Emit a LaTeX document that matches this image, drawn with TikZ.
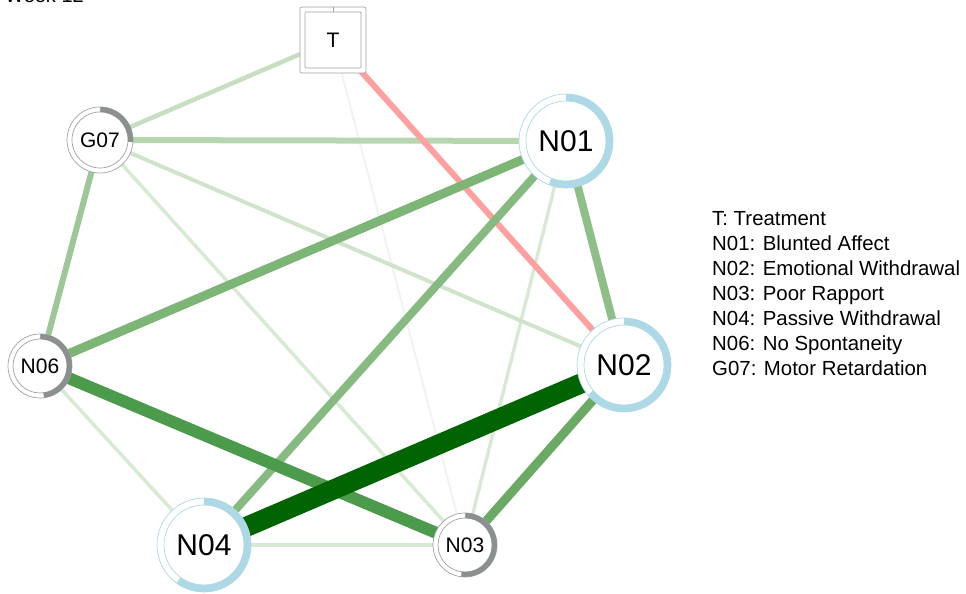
\documentclass[tikz,border=0pt]{standalone}
\usepackage{fontspec}
\setmainfont{Liberation Sans}
\usetikzlibrary{backgrounds}
\definecolor{ringblue}{HTML}{ADD8E6}
\definecolor{ringbluepie}{HTML}{ADD8E6}
\definecolor{ringgray}{HTML}{A0A2A2}
\definecolor{ringgraypie}{HTML}{8C8F8F}
\definecolor{eA}{HTML}{006400}
\definecolor{eB}{HTML}{4C9A4C}
\definecolor{eC}{HTML}{6AAA65}
\definecolor{eD}{HTML}{7DB577}
\definecolor{eE}{HTML}{86BA80}
\definecolor{eF}{HTML}{8FBF89}
\definecolor{eG}{HTML}{9DC797}
\definecolor{eH}{HTML}{B6D6B0}
\definecolor{eI}{HTML}{C6DFC0}
\definecolor{eJ}{HTML}{CFE4CA}
\definecolor{eK}{HTML}{D8E9D4}
\definecolor{eL}{HTML}{EEF5EC}
\definecolor{eRed}{HTML}{FFA0A0}
\newcommand\pienode[9]{%
  \node[circle, inner sep=0pt, minimum size={2*#4*1pt}, fill=white, draw=#7, line width=0.7pt] (#1) at (#2,#3) {};
  \draw[#7, line width=0.7pt] (#2,#3) circle[radius={(#4-#5)*1pt}];
  \draw[#7pie, line width=#5pt] ({#2},{#3+#4-#5/2}) arc[start angle=90, end angle={90-360*#6}, radius={(#4-#5/2)*1pt}];
  \draw[#7, line width=0.7pt] ({#2},{#3+#4-#5}) -- ({#2},{#3+#4});
  \node[inner sep=0pt, font=\fontsize{#9}{#9}\selectfont] (#1-lbl) at (#1.center) {#8};
}
\tikzset{edge/.style={line cap=butt}}
\begin{document}
\begin{tikzpicture}[x=1pt,y=1pt]
\useasboundingbox (0,0) rectangle (966,594);
% title (cut off at the top edge, as in the reference)
\node[anchor=base east, inner sep=0pt, font=\fontsize{20}{24}\selectfont] (title) at (84,591) {Week 12};
% T node
\node[rectangle, rounded corners=2pt, inner sep=0pt, minimum size=66pt, fill=white, draw=ringgray, line width=0.7pt] (T) at (333,554) {};
\node[rectangle, rounded corners=1pt, inner sep=0pt, minimum size=56pt, draw=ringgray, line width=0.7pt] (Tin) at (333,554) {};
\draw[ringgray, line width=0.7pt] (Tin.north) -- (T.north);
\node[inner sep=0pt, font=\fontsize{21}{21}\selectfont] (T-lbl) at (333,554) {T};
% pie nodes
\pienode{G07}{100}{454}{33}{5}{0.26}{ringgray}{G07}{21}
\pienode{N01}{566}{453}{47}{7}{0.56}{ringblue}{N01}{30}
\pienode{N02}{624}{229}{47}{7}{0.64}{ringblue}{N02}{30}
\pienode{N06}{40}{228}{32}{5}{0.48}{ringgray}{N06}{21}
\pienode{N04}{204}{49}{47}{7}{0.60}{ringblue}{N04}{30}
\pienode{N03}{465}{49}{32}{5}{0.52}{ringgray}{N03}{21}
% edges
\begin{scope}[on background layer]
\draw[edge, eL, line width=2pt] (T.center) -- (N03.center);
\draw[edge, eK, line width=3.5pt] (G07.center) -- (N03.center);
\draw[edge, eK, line width=3.5pt] (N01.center) -- (N03.center);
\draw[edge, eK, line width=3.5pt] (N06.center) -- (N04.center);
\draw[edge, eK, line width=3.5pt] (N04.center) -- (N03.center);
\draw[edge, eJ, line width=4pt] (G07.center) -- (N02.center);
\draw[edge, eI, line width=4.5pt] (T.center) -- (G07.center);
\draw[edge, eH, line width=6pt] (G07.center) -- (N01.center);
\draw[edge, eG, line width=6pt] (G07.center) -- (N06.center);
\draw[edge, eRed, line width=6pt] (T.center) -- (N02.center);
\draw[edge, eF, line width=8pt] (N01.center) -- (N02.center);
\draw[edge, eE, line width=8pt] (N01.center) -- (N04.center);
\draw[edge, eD, line width=9pt] (N01.center) -- (N06.center);
\draw[edge, eC, line width=9pt] (N02.center) -- (N03.center);
\draw[edge, eB, line width=12pt] (N06.center) -- (N03.center);
\draw[edge, eA, line width=20pt] (N02.center) -- (N04.center);
\end{scope}
% legend
\foreach \t [count=\i] in {T: Treatment, N01: Blunted Affect, N02: Emotional Withdrawal, N03: Poor Rapport, N04: Passive Withdrawal, N06: No Spontaneity, G07: Motor Retardation}
  \node[anchor=base west, inner sep=0pt, font=\fontsize{20.4}{25}\selectfont] (leg\i) at (712,{368-25*(\i-1)}) {\t};
\end{tikzpicture}
\end{document}
